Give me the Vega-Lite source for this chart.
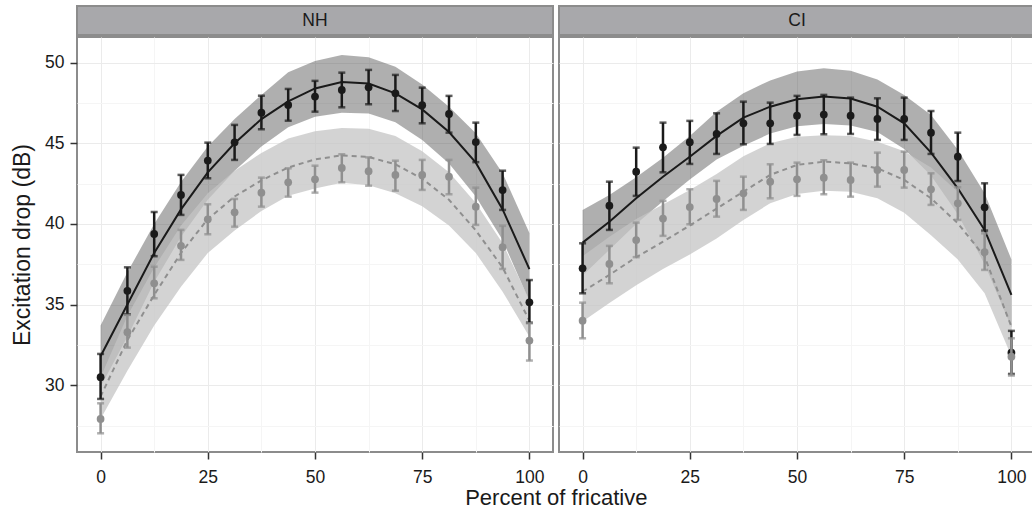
{
  "$schema": "https://vega.github.io/schema/vega-lite/v6.json",
  "padding": {"left": 10, "top": 5, "right": 0, "bottom": 0},
  "background": "white",
  "datasets": {
    "strips": [{"panel": "NH"}, {"panel": "CI"}],
    "curves": [
      {"panel":"NH","series":"A","x":0,"mean":30.5,"elo":29.15,"ehi":31.94,"fit":31.8,"blo":29.9,"bhi":33.7},
      {"panel":"NH","series":"A","x":6.25,"mean":35.85,"elo":34.4,"ehi":37.31,"fit":35.0,"blo":33.0,"bhi":37.0},
      {"panel":"NH","series":"A","x":12.5,"mean":39.38,"elo":38.0,"ehi":40.74,"fit":38.2,"blo":36.4,"bhi":40.0},
      {"panel":"NH","series":"A","x":18.75,"mean":41.8,"elo":40.56,"ehi":43.04,"fit":40.9,"blo":39.2,"bhi":42.6},
      {"panel":"NH","series":"A","x":25,"mean":43.93,"elo":42.83,"ehi":45.04,"fit":43.2,"blo":41.5,"bhi":44.8},
      {"panel":"NH","series":"A","x":31.25,"mean":45.06,"elo":43.97,"ehi":46.14,"fit":45.0,"blo":43.3,"bhi":46.5},
      {"panel":"NH","series":"A","x":37.5,"mean":46.9,"elo":45.87,"ehi":47.95,"fit":46.5,"blo":44.8,"bhi":48.0},
      {"panel":"NH","series":"A","x":43.75,"mean":47.38,"elo":46.4,"ehi":48.37,"fit":47.6,"blo":46.0,"bhi":49.4},
      {"panel":"NH","series":"A","x":50,"mean":47.9,"elo":46.96,"ehi":48.87,"fit":48.4,"blo":46.65,"bhi":50.1},
      {"panel":"NH","series":"A","x":56.25,"mean":48.31,"elo":47.23,"ehi":49.38,"fit":48.8,"blo":46.9,"bhi":50.48},
      {"panel":"NH","series":"A","x":62.5,"mean":48.47,"elo":47.42,"ehi":49.55,"fit":48.7,"blo":46.85,"bhi":50.33},
      {"panel":"NH","series":"A","x":68.75,"mean":48.1,"elo":47.0,"ehi":49.24,"fit":48.1,"blo":46.3,"bhi":49.75},
      {"panel":"NH","series":"A","x":75,"mean":47.36,"elo":46.24,"ehi":48.45,"fit":47.1,"blo":45.2,"bhi":48.65},
      {"panel":"NH","series":"A","x":81.25,"mean":46.82,"elo":45.66,"ehi":47.94,"fit":45.7,"blo":43.75,"bhi":47.27},
      {"panel":"NH","series":"A","x":87.5,"mean":45.08,"elo":43.83,"ehi":46.28,"fit":43.8,"blo":41.7,"bhi":45.62},
      {"panel":"NH","series":"A","x":93.75,"mean":42.1,"elo":40.87,"ehi":43.3,"fit":40.9,"blo":39.0,"bhi":43.14},
      {"panel":"NH","series":"A","x":100,"mean":35.14,"elo":33.88,"ehi":36.52,"fit":37.2,"blo":35.2,"bhi":39.44},
      {"panel":"NH","series":"B","x":0,"mean":27.91,"elo":27.02,"ehi":28.88,"fit":29.3,"blo":27.9,"bhi":30.5},
      {"panel":"NH","series":"B","x":6.25,"mean":33.29,"elo":32.33,"ehi":34.36,"fit":32.8,"blo":30.9,"bhi":34.3},
      {"panel":"NH","series":"B","x":12.5,"mean":36.32,"elo":35.39,"ehi":37.35,"fit":35.6,"blo":33.7,"bhi":37.3},
      {"panel":"NH","series":"B","x":18.75,"mean":38.64,"elo":37.77,"ehi":39.63,"fit":38.2,"blo":36.1,"bhi":39.9},
      {"panel":"NH","series":"B","x":25,"mean":40.29,"elo":39.36,"ehi":41.22,"fit":40.3,"blo":38.2,"bhi":41.9},
      {"panel":"NH","series":"B","x":31.25,"mean":40.72,"elo":39.83,"ehi":41.55,"fit":41.7,"blo":39.6,"bhi":43.3},
      {"panel":"NH","series":"B","x":37.5,"mean":41.94,"elo":41.07,"ehi":42.87,"fit":42.7,"blo":40.8,"bhi":44.4},
      {"panel":"NH","series":"B","x":43.75,"mean":42.58,"elo":41.69,"ehi":43.45,"fit":43.5,"blo":41.75,"bhi":45.3},
      {"panel":"NH","series":"B","x":50,"mean":42.77,"elo":41.94,"ehi":43.61,"fit":44.0,"blo":42.2,"bhi":45.75},
      {"panel":"NH","series":"B","x":56.25,"mean":43.47,"elo":42.58,"ehi":44.32,"fit":44.25,"blo":42.55,"bhi":45.95},
      {"panel":"NH","series":"B","x":62.5,"mean":43.27,"elo":42.37,"ehi":44.13,"fit":44.15,"blo":42.4,"bhi":45.9},
      {"panel":"NH","series":"B","x":68.75,"mean":43.04,"elo":42.06,"ehi":43.92,"fit":43.7,"blo":41.9,"bhi":45.45},
      {"panel":"NH","series":"B","x":75,"mean":43.04,"elo":42.11,"ehi":43.97,"fit":42.8,"blo":41.1,"bhi":44.5},
      {"panel":"NH","series":"B","x":81.25,"mean":42.93,"elo":41.84,"ehi":43.97,"fit":41.5,"blo":39.9,"bhi":43.2},
      {"panel":"NH","series":"B","x":87.5,"mean":41.07,"elo":39.94,"ehi":42.25,"fit":39.6,"blo":38.2,"bhi":41.3},
      {"panel":"NH","series":"B","x":93.75,"mean":38.56,"elo":37.21,"ehi":39.88,"fit":37.3,"blo":35.8,"bhi":38.8},
      {"panel":"NH","series":"B","x":100,"mean":32.77,"elo":31.53,"ehi":33.84,"fit":34.0,"blo":33.0,"bhi":35.3},
      {"panel":"CI","series":"A","x":0,"mean":37.25,"elo":35.7,"ehi":38.8,"fit":38.84,"blo":36.8,"bhi":40.87},
      {"panel":"CI","series":"A","x":6.25,"mean":41.13,"elo":39.63,"ehi":42.62,"fit":40.14,"blo":38.4,"bhi":41.8},
      {"panel":"CI","series":"A","x":12.5,"mean":43.24,"elo":41.74,"ehi":44.73,"fit":41.59,"blo":40.0,"bhi":42.9},
      {"panel":"CI","series":"A","x":18.75,"mean":44.75,"elo":43.2,"ehi":46.28,"fit":42.93,"blo":41.4,"bhi":44.1},
      {"panel":"CI","series":"A","x":25,"mean":45.07,"elo":43.72,"ehi":46.39,"fit":44.17,"blo":42.75,"bhi":45.45},
      {"panel":"CI","series":"A","x":31.25,"mean":45.58,"elo":44.34,"ehi":46.86,"fit":45.46,"blo":44.0,"bhi":46.95},
      {"panel":"CI","series":"A","x":37.5,"mean":46.24,"elo":44.94,"ehi":47.58,"fit":46.59,"blo":44.85,"bhi":48.1},
      {"panel":"CI","series":"A","x":43.75,"mean":46.24,"elo":44.96,"ehi":47.52,"fit":47.27,"blo":45.6,"bhi":48.9},
      {"panel":"CI","series":"A","x":50,"mean":46.71,"elo":45.52,"ehi":47.94,"fit":47.73,"blo":46.05,"bhi":49.45},
      {"panel":"CI","series":"A","x":56.25,"mean":46.78,"elo":45.56,"ehi":48.0,"fit":47.9,"blo":46.2,"bhi":49.65},
      {"panel":"CI","series":"A","x":62.5,"mean":46.71,"elo":45.58,"ehi":47.83,"fit":47.77,"blo":46.1,"bhi":49.5},
      {"panel":"CI","series":"A","x":68.75,"mean":46.51,"elo":45.21,"ehi":47.79,"fit":47.27,"blo":45.7,"bhi":48.95},
      {"panel":"CI","series":"A","x":75,"mean":46.51,"elo":45.21,"ehi":47.83,"fit":46.24,"blo":44.65,"bhi":48.0},
      {"panel":"CI","series":"A","x":81.25,"mean":45.66,"elo":44.34,"ehi":47.0,"fit":44.42,"blo":43.0,"bhi":46.75},
      {"panel":"CI","series":"A","x":87.5,"mean":44.17,"elo":42.66,"ehi":45.66,"fit":42.21,"blo":40.6,"bhi":44.6},
      {"panel":"CI","series":"A","x":93.75,"mean":41.03,"elo":39.59,"ehi":42.52,"fit":39.63,"blo":37.5,"bhi":41.9},
      {"panel":"CI","series":"A","x":100,"mean":32.02,"elo":30.7,"ehi":33.37,"fit":35.6,"blo":33.6,"bhi":37.8},
      {"panel":"CI","series":"B","x":0,"mean":34.0,"elo":32.91,"ehi":35.12,"fit":35.8,"blo":33.95,"bhi":38.0},
      {"panel":"CI","series":"B","x":6.25,"mean":37.52,"elo":36.32,"ehi":38.64,"fit":36.84,"blo":35.1,"bhi":39.2},
      {"panel":"CI","series":"B","x":12.5,"mean":39.0,"elo":37.94,"ehi":40.08,"fit":37.94,"blo":36.2,"bhi":40.3},
      {"panel":"CI","series":"B","x":18.75,"mean":40.33,"elo":39.26,"ehi":41.43,"fit":38.9,"blo":37.2,"bhi":41.2},
      {"panel":"CI","series":"B","x":25,"mean":41.05,"elo":39.98,"ehi":42.15,"fit":39.9,"blo":38.1,"bhi":42.1},
      {"panel":"CI","series":"B","x":31.25,"mean":41.55,"elo":40.45,"ehi":42.67,"fit":40.95,"blo":39.1,"bhi":43.1},
      {"panel":"CI","series":"B","x":37.5,"mean":41.9,"elo":40.87,"ehi":42.93,"fit":42.0,"blo":40.25,"bhi":44.2},
      {"panel":"CI","series":"B","x":43.75,"mean":42.62,"elo":41.59,"ehi":43.7,"fit":43.04,"blo":41.28,"bhi":45.0},
      {"panel":"CI","series":"B","x":50,"mean":42.77,"elo":41.74,"ehi":43.8,"fit":43.66,"blo":41.86,"bhi":45.4},
      {"panel":"CI","series":"B","x":56.25,"mean":42.87,"elo":41.84,"ehi":43.95,"fit":43.86,"blo":42.06,"bhi":45.5},
      {"panel":"CI","series":"B","x":62.5,"mean":42.73,"elo":41.69,"ehi":43.8,"fit":43.76,"blo":42.0,"bhi":45.45},
      {"panel":"CI","series":"B","x":68.75,"mean":43.35,"elo":42.31,"ehi":44.42,"fit":43.45,"blo":41.6,"bhi":45.1},
      {"panel":"CI","series":"B","x":75,"mean":43.35,"elo":42.25,"ehi":44.48,"fit":42.73,"blo":40.7,"bhi":44.5},
      {"panel":"CI","series":"B","x":81.25,"mean":42.15,"elo":41.18,"ehi":43.14,"fit":41.59,"blo":39.3,"bhi":43.5},
      {"panel":"CI","series":"B","x":87.5,"mean":41.28,"elo":40.25,"ehi":42.28,"fit":40.04,"blo":37.8,"bhi":42.0},
      {"panel":"CI","series":"B","x":93.75,"mean":38.25,"elo":37.15,"ehi":39.42,"fit":37.97,"blo":35.7,"bhi":39.8},
      {"panel":"CI","series":"B","x":100,"mean":31.77,"elo":30.6,"ehi":32.91,"fit":33.63,"blo":31.8,"bhi":35.5}
    ]
  },
  "title": {
    "text": "Percent of fricative",
    "orient": "bottom",
    "anchor": "middle",
    "fontSize": 22,
    "fontWeight": "normal",
    "font": "Liberation Sans",
    "color": "#1a1a1a",
    "offset": 1,
    "dx": 33
  },
  "hconcat": [
    {
      "spacing": 0,
      "vconcat": [
        {
          "width": 476,
          "height": 29,
          "view": {"fill": "#a8a8ab", "stroke": "#8c8c8c", "strokeWidth": 2},
          "data": {"name": "strips"},
          "transform": [{"filter": "datum.panel === 'NH'"}],
          "mark": {"type": "text", "fontSize": 17.5, "font": "Liberation Sans", "color": "#1a1a1a"},
          "encoding": {"text": {"field": "panel", "type": "nominal"}}
        },
        {
          "width": 476,
          "height": 415,
          "view": {"fill": "white", "stroke": "#8c8c8c", "strokeWidth": 2},
          "data": {"name": "curves"},
          "transform": [{"filter": "datum.panel === 'NH'"}],
          "encoding": {
            "x": {
              "field": "x", "type": "quantitative",
              "scale": {"domain": [-5.5, 105.5], "nice": false, "zero": false},
              "axis": {
                "title": null,
                "values": [0, 12.5, 25, 37.5, 50, 62.5, 75, 87.5, 100],
                "labelExpr": "datum.value % 25 === 0 ? format(datum.value, 'd') : ''",
                "tickOpacity": {"condition": {"test": "datum.value % 25 === 0", "value": 1}, "value": 0},
                "gridColor": {"condition": {"test": "datum.value % 25 === 0", "value": "#ebebeb"}, "value": "#f5f5f5"},
                "labelPadding": 9,
                "labelOverlap": false,
                "labelFlush": false
              }
            }
          },
          "layer": [
            {
              "transform": [{"filter": "datum.series === 'A'"}],
              "mark": {"type": "area", "color": "#4d4d4d", "opacity": 0.45},
              "encoding": {
                "y": {
                  "field": "blo", "type": "quantitative", "title": "Excitation drop (dB)",
                  "scale": {"domain": [25.86, 51.59], "nice": false, "zero": false},
                  "axis": {
                    "values": [27.5, 30, 32.5, 35, 37.5, 40, 42.5, 45, 47.5, 50],
                    "labelExpr": "datum.value % 5 === 0 ? format(datum.value, 'd') : ''",
                    "tickOpacity": {"condition": {"test": "datum.value % 5 === 0", "value": 1}, "value": 0},
                    "gridColor": {"condition": {"test": "datum.value % 5 === 0", "value": "#ebebeb"}, "value": "#f5f5f5"},
                    "labelPadding": 6,
                    "titlePadding": 10,
                    "titleFontSize": 23,
                    "labelOverlap": false,
                    "labelFlush": false
                  }
                },
                "y2": {"field": "bhi"}
              }
            },
            {
              "transform": [{"filter": "datum.series === 'B'"}],
              "mark": {"type": "area", "color": "#c4c4c4", "opacity": 0.75},
              "encoding": {
                "y": {"field": "blo", "type": "quantitative", "title": "Excitation drop (dB)"},
                "y2": {"field": "bhi"}
              }
            },
            {
              "transform": [{"filter": "datum.series === 'A'"}],
              "mark": {"type": "line", "color": "#1a1a1a", "strokeWidth": 2},
              "encoding": {"y": {"field": "fit", "type": "quantitative", "title": "Excitation drop (dB)"}}
            },
            {
              "transform": [{"filter": "datum.series === 'B'"}],
              "mark": {"type": "line", "color": "#8f8f8f", "strokeWidth": 2, "strokeDash": [5, 4]},
              "encoding": {"y": {"field": "fit", "type": "quantitative", "title": "Excitation drop (dB)"}}
            },
            {
              "transform": [{"filter": "datum.series === 'A'"}],
              "mark": {"type": "errorbar", "ticks": true, "size": 7, "thickness": 2.5, "color": "#1a1a1a"},
              "encoding": {
                "y": {"field": "elo", "type": "quantitative", "title": "Excitation drop (dB)"},
                "y2": {"field": "ehi"}
              }
            },
            {
              "transform": [{"filter": "datum.series === 'A'"}],
              "mark": {"type": "point", "filled": true, "size": 60, "color": "#1a1a1a", "opacity": 1},
              "encoding": {"y": {"field": "mean", "type": "quantitative", "title": "Excitation drop (dB)"}}
            },
            {
              "transform": [{"filter": "datum.series === 'B'"}],
              "mark": {"type": "errorbar", "ticks": true, "size": 7, "thickness": 2.5, "color": "#8f8f8f"},
              "encoding": {
                "y": {"field": "elo", "type": "quantitative", "title": "Excitation drop (dB)"},
                "y2": {"field": "ehi"}
              }
            },
            {
              "transform": [{"filter": "datum.series === 'B'"}],
              "mark": {"type": "point", "filled": true, "size": 60, "color": "#8f8f8f", "opacity": 1},
              "encoding": {"y": {"field": "mean", "type": "quantitative", "title": "Excitation drop (dB)"}}
            }
          ]
        }
      ]
    },
    {
      "spacing": 0,
      "vconcat": [
        {
          "width": 476,
          "height": 29,
          "view": {"fill": "#a8a8ab", "stroke": "#8c8c8c", "strokeWidth": 2},
          "data": {"name": "strips"},
          "transform": [{"filter": "datum.panel === 'CI'"}],
          "mark": {"type": "text", "fontSize": 17.5, "font": "Liberation Sans", "color": "#1a1a1a"},
          "encoding": {"text": {"field": "panel", "type": "nominal"}}
        },
        {
          "width": 476,
          "height": 415,
          "view": {"fill": "white", "stroke": "#8c8c8c", "strokeWidth": 2},
          "data": {"name": "curves"},
          "transform": [{"filter": "datum.panel === 'CI'"}],
          "encoding": {
            "x": {
              "field": "x", "type": "quantitative",
              "scale": {"domain": [-5.5, 105.5], "nice": false, "zero": false},
              "axis": {
                "title": null,
                "values": [0, 12.5, 25, 37.5, 50, 62.5, 75, 87.5, 100],
                "labelExpr": "datum.value % 25 === 0 ? format(datum.value, 'd') : ''",
                "tickOpacity": {"condition": {"test": "datum.value % 25 === 0", "value": 1}, "value": 0},
                "gridColor": {"condition": {"test": "datum.value % 25 === 0", "value": "#ebebeb"}, "value": "#f5f5f5"},
                "labelPadding": 9,
                "labelOverlap": false,
                "labelFlush": false
              }
            }
          },
          "layer": [
            {
              "transform": [{"filter": "datum.series === 'A'"}],
              "mark": {"type": "area", "color": "#4d4d4d", "opacity": 0.45},
              "encoding": {
                "y": {
                  "field": "blo", "type": "quantitative", "title": null,
                  "scale": {"domain": [25.86, 51.59], "nice": false, "zero": false},
                  "axis": {
                    "values": [27.5, 30, 32.5, 35, 37.5, 40, 42.5, 45, 47.5, 50],
                    "labels": false,
                    "ticks": false,
                    "gridColor": {"condition": {"test": "datum.value % 5 === 0", "value": "#ebebeb"}, "value": "#f5f5f5"}
                  }
                },
                "y2": {"field": "bhi"}
              }
            },
            {
              "transform": [{"filter": "datum.series === 'B'"}],
              "mark": {"type": "area", "color": "#c4c4c4", "opacity": 0.75},
              "encoding": {
                "y": {"field": "blo", "type": "quantitative", "title": null},
                "y2": {"field": "bhi"}
              }
            },
            {
              "transform": [{"filter": "datum.series === 'A'"}],
              "mark": {"type": "line", "color": "#1a1a1a", "strokeWidth": 2},
              "encoding": {"y": {"field": "fit", "type": "quantitative", "title": null}}
            },
            {
              "transform": [{"filter": "datum.series === 'B'"}],
              "mark": {"type": "line", "color": "#8f8f8f", "strokeWidth": 2, "strokeDash": [5, 4]},
              "encoding": {"y": {"field": "fit", "type": "quantitative", "title": null}}
            },
            {
              "transform": [{"filter": "datum.series === 'A'"}],
              "mark": {"type": "errorbar", "ticks": true, "size": 7, "thickness": 2.5, "color": "#1a1a1a"},
              "encoding": {
                "y": {"field": "elo", "type": "quantitative", "title": null},
                "y2": {"field": "ehi"}
              }
            },
            {
              "transform": [{"filter": "datum.series === 'A'"}],
              "mark": {"type": "point", "filled": true, "size": 60, "color": "#1a1a1a", "opacity": 1},
              "encoding": {"y": {"field": "mean", "type": "quantitative", "title": null}}
            },
            {
              "transform": [{"filter": "datum.series === 'B'"}],
              "mark": {"type": "errorbar", "ticks": true, "size": 7, "thickness": 2.5, "color": "#8f8f8f"},
              "encoding": {
                "y": {"field": "elo", "type": "quantitative", "title": null},
                "y2": {"field": "ehi"}
              }
            },
            {
              "transform": [{"filter": "datum.series === 'B'"}],
              "mark": {"type": "point", "filled": true, "size": 60, "color": "#8f8f8f", "opacity": 1},
              "encoding": {"y": {"field": "mean", "type": "quantitative", "title": null}}
            }
          ]
        }
      ]
    }
  ],
  "spacing": 4,
  "config": {
    "font": "Liberation Sans",
    "view": {"stroke": null},
    "axis": {
      "labelFont": "Liberation Sans",
      "labelFontSize": 17.5,
      "labelColor": "#1a1a1a",
      "tickColor": "#333333",
      "tickSize": 7,
      "tickWidth": 1.5,
      "domain": false,
      "gridWidth": 1,
      "titleFont": "Liberation Sans",
      "titleFontSize": 22,
      "titleFontWeight": "normal",
      "titleColor": "#1a1a1a"
    }
  }
}
